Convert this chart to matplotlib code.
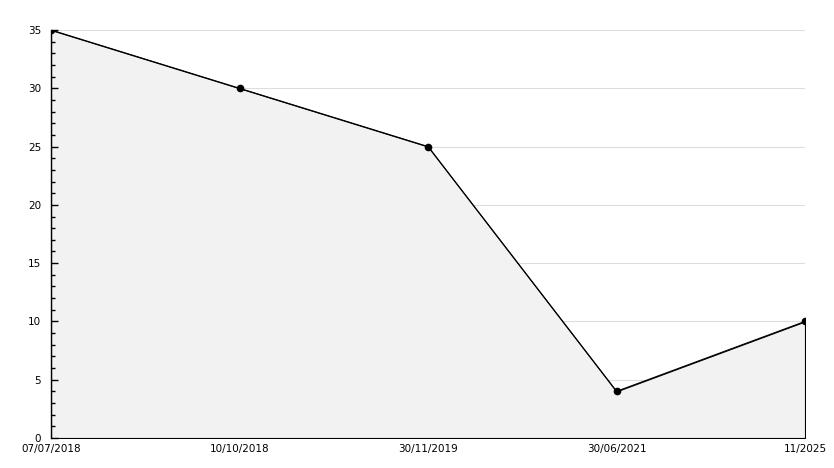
import matplotlib
matplotlib.use("Agg")
import matplotlib.pyplot as plt
from matplotlib.ticker import MultipleLocator

dates = ["07/07/2018", "10/10/2018", "30/11/2019", "30/06/2021", "11/2025"]
values = [35, 30, 25, 4, 10]

W, H = 834, 468
fig = plt.figure(figsize=(W / 100, H / 100), dpi=100)
rect = [51 / W, 1 - 438 / H, (805 - 51) / W, (438 - 30) / H]
ax = fig.add_axes(rect)

x = list(range(len(dates)))
ax.fill_between(x, values, 0, facecolor="#f2f2f2", edgecolor="black", linewidth=0.8, zorder=0.7)
ax.plot(x, values, color="black", linewidth=0.8, marker="o", markersize=4.5, zorder=3)

ax.set_xlim(0, len(dates) - 1)
ax.set_ylim(0, 35)
ax.grid(axis="y", which="major", color="#dddddd", linewidth=0.8)
ax.set_axisbelow(True)
for s in ["top", "right", "bottom", "left"]:
    ax.spines[s].set_visible(False)
ax.set_xticks(x)
ax.set_xticklabels(dates)
ax.tick_params(axis="x", length=0, labelsize=7.5, pad=4)

# overlay axes for the left spine and inward ticks drawn above the fill
ax2 = fig.add_axes(rect, sharey=ax)
ax2.patch.set_visible(False)
ax2.set_xlim(ax.get_xlim())
for s in ["top", "right", "bottom"]:
    ax2.spines[s].set_visible(False)
ax2.spines["left"].set_linewidth(1.0)
ax2.yaxis.set_major_locator(MultipleLocator(5))
ax2.yaxis.set_minor_locator(MultipleLocator(1))
ax2.tick_params(axis="y", which="major", direction="in", length=5, width=1, labelsize=7.5, pad=7)
ax2.tick_params(axis="y", which="minor", direction="in", length=3, width=1)
ax2.set_xticks([])

ax.tick_params(axis="y", which="both", length=0, labelleft=False)

fig.savefig("out.png", dpi=100)
